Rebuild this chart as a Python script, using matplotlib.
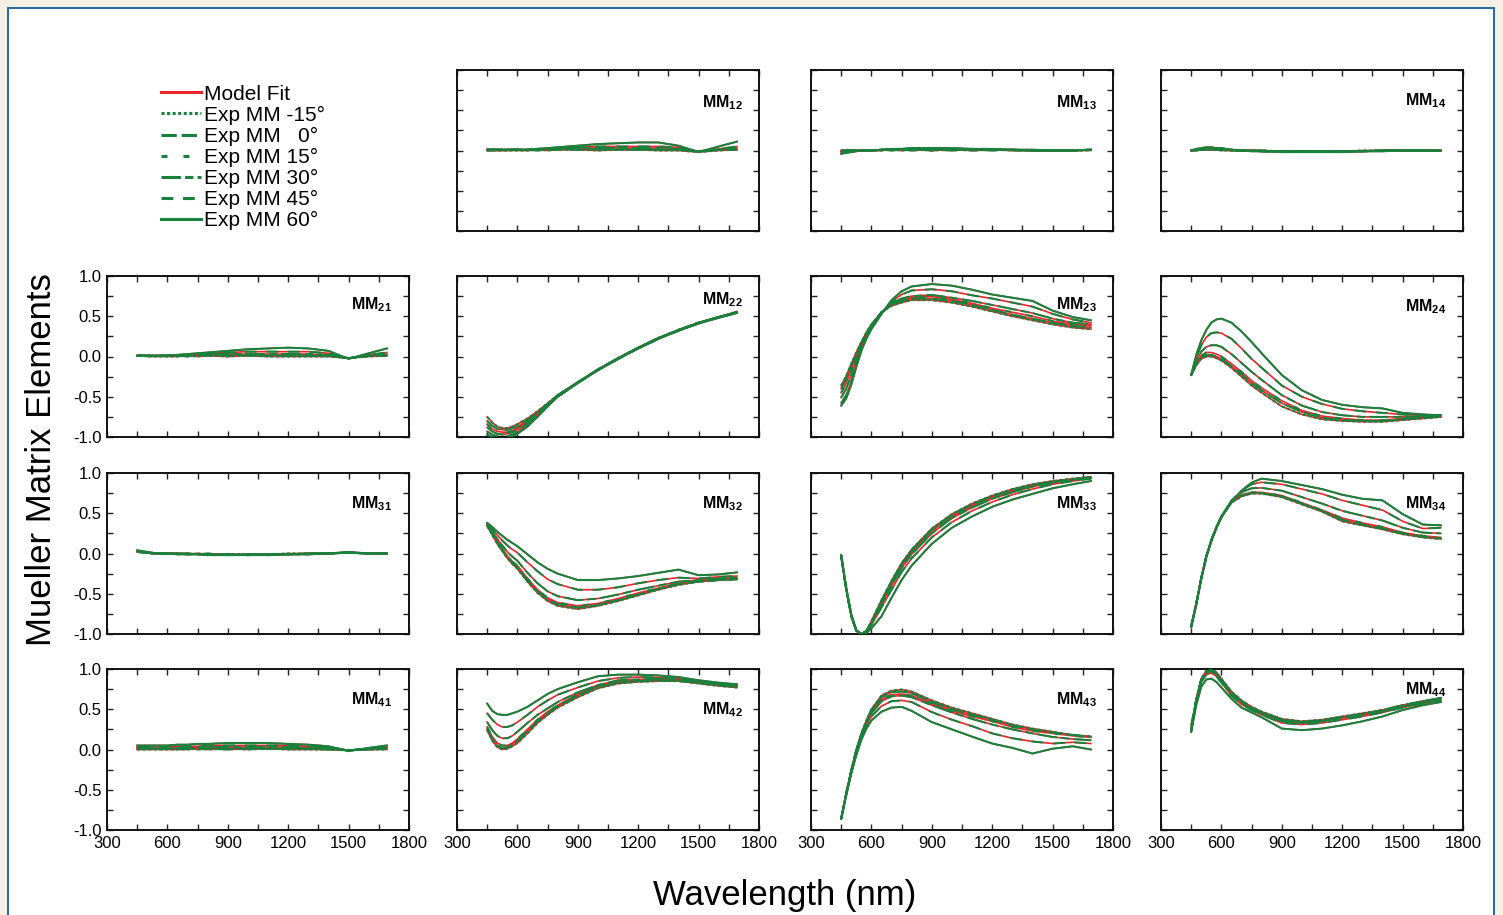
import matplotlib
matplotlib.use("Agg")
import matplotlib.pyplot as plt
from matplotlib.patches import Rectangle
from matplotlib.ticker import MultipleLocator, FormatStrFormatter

# ---------------- data ----------------
WAVELENGTH = [450, 475, 500, 525, 550, 575, 600, 650, 700, 750, 800,
              900, 1000, 1100, 1200, 1300, 1400, 1500, 1600, 1690]
ANGLE_LABELS = ["Exp MM -15°", "Exp MM   0°", "Exp MM 15°",
                "Exp MM 30°", "Exp MM 45°", "Exp MM 60°"]
MODEL_LABEL = "Model Fit"

# each panel: six curves in angle order -15, 0, 15, 30, 45, 60 deg
MM12 = [
    [0.00, 0.00, 0.00, 0.00, 0.00, 0.00, 0.00, 0.00, 0.01, 0.00, 0.01, 0.01, 0.00, 0.01, 0.01, 0.00, 0.00, -0.02, 0.00, 0.01],
    [0.01, 0.01, 0.01, 0.01, 0.01, 0.01, 0.01, 0.01, 0.00, 0.01, 0.02, 0.01, 0.02, 0.01, 0.01, 0.01, 0.01, -0.01, 0.01, 0.01],
    [0.00, 0.00, 0.00, 0.00, 0.00, 0.01, 0.01, 0.00, 0.01, 0.02, 0.01, 0.02, 0.01, 0.02, 0.02, 0.01, 0.01, -0.01, 0.01, 0.02],
    [0.01, 0.01, 0.01, 0.01, 0.01, 0.01, 0.01, 0.01, 0.02, 0.02, 0.03, 0.03, 0.03, 0.03, 0.03, 0.03, 0.02, -0.01, 0.01, 0.03],
    [0.01, 0.01, 0.01, 0.01, 0.01, 0.01, 0.01, 0.01, 0.02, 0.02, 0.03, 0.04, 0.05, 0.05, 0.05, 0.05, 0.04, -0.01, 0.02, 0.05],
    [0.01, 0.01, 0.01, 0.01, 0.01, 0.01, 0.01, 0.01, 0.02, 0.03, 0.04, 0.06, 0.08, 0.09, 0.10, 0.10, 0.06, -0.02, 0.05, 0.11],
]
MM13 = [
    [0.00, 0.00, 0.00, 0.00, 0.00, 0.00, 0.00, 0.00, 0.01, 0.00, 0.01, 0.00, 0.01, 0.00, 0.01, 0.00, 0.00, 0.00, 0.00, 0.00],
    [0.00, 0.00, 0.00, 0.00, 0.00, 0.00, 0.00, 0.01, 0.00, 0.01, 0.00, 0.01, 0.00, 0.01, 0.00, 0.01, 0.00, 0.00, 0.00, 0.01],
    [-0.01, 0.00, 0.00, 0.00, 0.00, 0.00, 0.00, 0.00, 0.02, 0.00, 0.02, 0.00, 0.02, 0.00, 0.01, 0.00, 0.00, 0.00, 0.00, 0.01],
    [-0.01, -0.01, 0.00, 0.00, 0.00, 0.00, 0.00, 0.01, 0.01, 0.02, 0.01, 0.02, 0.01, 0.02, 0.01, 0.01, 0.00, 0.00, 0.00, 0.01],
    [-0.02, -0.01, 0.00, 0.00, 0.00, 0.00, 0.00, 0.01, 0.01, 0.02, 0.02, 0.02, 0.02, 0.02, 0.01, 0.01, 0.00, 0.00, 0.00, 0.01],
    [-0.04, -0.03, -0.02, -0.01, 0.00, 0.00, 0.00, 0.01, 0.02, 0.02, 0.03, 0.03, 0.03, 0.02, 0.02, 0.01, 0.01, 0.00, 0.00, 0.01],
]
MM14 = [
    [0.00, 0.00, 0.01, 0.01, 0.01, 0.01, 0.00, 0.00, 0.00, 0.00, 0.00, -0.01, -0.01, -0.01, -0.01, 0.00, 0.00, 0.00, 0.00, 0.00],
    [0.00, 0.00, 0.01, 0.01, 0.01, 0.01, 0.01, 0.00, 0.00, 0.00, 0.00, -0.01, -0.01, -0.01, -0.01, -0.01, 0.00, 0.00, 0.00, 0.00],
    [0.00, 0.01, 0.01, 0.01, 0.01, 0.01, 0.01, 0.00, 0.00, 0.00, -0.01, -0.01, -0.01, -0.01, -0.01, -0.01, 0.00, 0.00, 0.00, 0.00],
    [0.00, 0.01, 0.01, 0.02, 0.02, 0.01, 0.01, 0.01, 0.00, 0.00, -0.01, -0.01, -0.01, -0.01, -0.01, -0.01, 0.00, 0.00, 0.00, 0.00],
    [0.00, 0.01, 0.02, 0.02, 0.02, 0.02, 0.01, 0.01, 0.00, 0.00, -0.01, -0.01, -0.01, -0.01, -0.01, -0.01, 0.00, 0.00, 0.00, 0.00],
    [0.00, 0.02, 0.03, 0.04, 0.04, 0.03, 0.03, 0.01, 0.00, -0.01, -0.01, -0.02, -0.02, -0.02, -0.02, -0.01, -0.01, 0.00, 0.00, 0.00],
]
MM21 = [
    [0.01, 0.01, 0.00, 0.00, 0.00, 0.00, 0.00, 0.00, 0.01, 0.00, 0.01, 0.00, 0.01, 0.00, 0.00, 0.00, 0.00, -0.02, 0.00, 0.01],
    [0.01, 0.01, 0.01, 0.01, 0.01, 0.01, 0.01, 0.01, 0.00, 0.02, 0.01, 0.02, 0.01, 0.01, 0.01, 0.01, 0.01, -0.02, 0.01, 0.01],
    [0.01, 0.01, 0.01, 0.01, 0.01, 0.01, 0.01, 0.01, 0.02, 0.01, 0.02, 0.01, 0.02, 0.02, 0.02, 0.01, 0.01, -0.02, 0.01, 0.02],
    [0.01, 0.01, 0.01, 0.01, 0.01, 0.01, 0.01, 0.02, 0.02, 0.03, 0.03, 0.03, 0.03, 0.03, 0.03, 0.03, 0.02, -0.02, 0.01, 0.03],
    [0.01, 0.01, 0.01, 0.01, 0.01, 0.01, 0.01, 0.02, 0.02, 0.03, 0.04, 0.05, 0.06, 0.06, 0.06, 0.06, 0.04, -0.02, 0.02, 0.05],
    [0.01, 0.01, 0.01, 0.01, 0.01, 0.01, 0.01, 0.02, 0.03, 0.04, 0.05, 0.07, 0.09, 0.10, 0.11, 0.10, 0.07, -0.03, 0.04, 0.10],
]
MM22 = [
    [-0.75, -0.82, -0.87, -0.89, -0.89, -0.87, -0.84, -0.77, -0.68, -0.58, -0.48, -0.32, -0.16, -0.02, 0.11, 0.23, 0.33, 0.42, 0.49, 0.55],
    [-0.80, -0.86, -0.90, -0.91, -0.91, -0.89, -0.87, -0.79, -0.70, -0.59, -0.48, -0.32, -0.16, -0.02, 0.11, 0.23, 0.33, 0.42, 0.49, 0.55],
    [-0.84, -0.90, -0.93, -0.94, -0.94, -0.92, -0.89, -0.81, -0.71, -0.60, -0.49, -0.32, -0.16, -0.02, 0.11, 0.23, 0.33, 0.42, 0.49, 0.56],
    [-0.88, -0.93, -0.96, -0.97, -0.96, -0.94, -0.91, -0.83, -0.72, -0.61, -0.49, -0.32, -0.17, -0.03, 0.10, 0.22, 0.33, 0.42, 0.49, 0.55],
    [-0.93, -0.97, -0.99, -1.00, -0.99, -0.97, -0.94, -0.85, -0.74, -0.62, -0.50, -0.33, -0.17, -0.03, 0.10, 0.22, 0.32, 0.41, 0.49, 0.55],
    [-0.97, -1.00, -1.02, -1.02, -1.01, -0.99, -0.96, -0.87, -0.75, -0.62, -0.50, -0.33, -0.17, -0.03, 0.10, 0.22, 0.32, 0.41, 0.48, 0.54],
]
MM23 = [
    [-0.36, -0.24, -0.09, 0.05, 0.18, 0.30, 0.40, 0.55, 0.63, 0.67, 0.70, 0.70, 0.67, 0.62, 0.56, 0.50, 0.45, 0.40, 0.36, 0.34],
    [-0.40, -0.28, -0.12, 0.03, 0.17, 0.29, 0.39, 0.55, 0.64, 0.69, 0.72, 0.72, 0.69, 0.64, 0.58, 0.52, 0.47, 0.42, 0.38, 0.36],
    [-0.45, -0.33, -0.16, 0.00, 0.15, 0.28, 0.38, 0.55, 0.65, 0.70, 0.73, 0.745, 0.71, 0.66, 0.60, 0.55, 0.50, 0.44, 0.40, 0.38],
    [-0.51, -0.40, -0.23, -0.05, 0.12, 0.26, 0.37, 0.54, 0.66, 0.72, 0.75, 0.765, 0.73, 0.69, 0.64, 0.59, 0.54, 0.47, 0.42, 0.40],
    [-0.58, -0.48, -0.31, -0.10, 0.09, 0.24, 0.35, 0.53, 0.68, 0.77, 0.82, 0.835, 0.81, 0.76, 0.72, 0.67, 0.62, 0.53, 0.46, 0.42],
    [-0.61, -0.52, -0.35, -0.13, 0.07, 0.22, 0.34, 0.53, 0.70, 0.81, 0.87, 0.90, 0.88, 0.83, 0.77, 0.73, 0.69, 0.57, 0.49, 0.45],
]
MM24 = [
    [-0.23, -0.11, -0.03, 0.00, 0.00, -0.02, -0.05, -0.14, -0.25, -0.36, -0.45, -0.62, -0.72, -0.78, -0.80, -0.81, -0.81, -0.79, -0.77, -0.75],
    [-0.23, -0.10, -0.01, 0.02, 0.02, 0.00, -0.03, -0.12, -0.22, -0.33, -0.42, -0.58, -0.69, -0.76, -0.79, -0.80, -0.80, -0.78, -0.76, -0.75],
    [-0.23, -0.09, 0.01, 0.05, 0.05, 0.03, 0.00, -0.09, -0.19, -0.30, -0.39, -0.55, -0.67, -0.74, -0.77, -0.79, -0.79, -0.77, -0.75, -0.74],
    [-0.23, -0.06, 0.06, 0.12, 0.14, 0.14, 0.12, 0.03, -0.08, -0.19, -0.29, -0.48, -0.61, -0.69, -0.73, -0.75, -0.75, -0.75, -0.74, -0.73],
    [-0.23, -0.02, 0.14, 0.24, 0.29, 0.30, 0.29, 0.22, 0.10, -0.03, -0.14, -0.36, -0.50, -0.59, -0.65, -0.68, -0.70, -0.72, -0.73, -0.73],
    [-0.23, 0.02, 0.20, 0.33, 0.42, 0.46, 0.47, 0.42, 0.31, 0.18, 0.04, -0.23, -0.42, -0.54, -0.60, -0.63, -0.645, -0.70, -0.72, -0.73],
]
MM31 = [
    [0.03, 0.02, 0.01, 0.00, 0.00, 0.00, 0.00, 0.00, -0.01, 0.00, -0.01, -0.01, -0.01, -0.01, 0.00, 0.00, 0.00, 0.01, 0.00, 0.00],
    [0.02, 0.02, 0.01, 0.00, 0.00, 0.00, 0.00, -0.01, 0.00, -0.01, 0.00, -0.02, -0.01, -0.02, -0.01, 0.00, 0.00, 0.01, 0.00, 0.00],
    [0.03, 0.02, 0.01, 0.01, 0.00, 0.00, 0.00, 0.00, -0.01, 0.00, -0.02, -0.01, -0.02, -0.01, -0.01, 0.00, 0.00, 0.01, 0.00, 0.00],
    [0.02, 0.01, 0.01, 0.00, 0.00, 0.00, 0.00, -0.01, -0.01, -0.01, -0.01, -0.02, -0.01, -0.01, -0.01, -0.01, 0.00, 0.01, 0.00, 0.00],
    [0.03, 0.02, 0.01, 0.00, 0.00, 0.00, 0.00, 0.00, 0.00, -0.01, -0.01, -0.01, -0.02, -0.01, -0.01, 0.00, 0.00, 0.01, 0.00, 0.00],
    [0.04, 0.03, 0.02, 0.01, 0.00, 0.00, 0.00, 0.00, -0.01, -0.01, -0.02, -0.02, -0.02, -0.02, -0.01, -0.01, 0.00, 0.02, 0.00, 0.00],
]
MM32 = [
    [0.34, 0.23, 0.12, 0.03, -0.06, -0.13, -0.19, -0.35, -0.49, -0.59, -0.65, -0.69, -0.65, -0.59, -0.52, -0.45, -0.39, -0.35, -0.33, -0.32],
    [0.36, 0.25, 0.14, 0.05, -0.04, -0.11, -0.17, -0.33, -0.47, -0.57, -0.63, -0.67, -0.64, -0.58, -0.51, -0.44, -0.38, -0.35, -0.33, -0.32],
    [0.35, 0.25, 0.15, 0.06, -0.03, -0.10, -0.15, -0.31, -0.45, -0.55, -0.61, -0.65, -0.62, -0.56, -0.49, -0.43, -0.37, -0.34, -0.32, -0.31],
    [0.36, 0.27, 0.18, 0.10, 0.02, -0.04, -0.09, -0.24, -0.37, -0.47, -0.53, -0.58, -0.56, -0.51, -0.45, -0.40, -0.35, -0.33, -0.31, -0.30],
    [0.37, 0.30, 0.23, 0.16, 0.10, 0.05, 0.01, -0.11, -0.22, -0.32, -0.38, -0.45, -0.45, -0.42, -0.37, -0.33, -0.30, -0.31, -0.29, -0.28],
    [0.38, 0.33, 0.27, 0.22, 0.17, 0.13, 0.09, -0.01, -0.11, -0.19, -0.25, -0.33, -0.33, -0.31, -0.28, -0.24, -0.20, -0.27, -0.26, -0.235],
]
MM33 = [
    [-0.02, -0.45, -0.78, -0.96, -1.00, -0.96, -0.84, -0.58, -0.34, -0.12, 0.05, 0.31, 0.49, 0.62, 0.72, 0.80, 0.86, 0.90, 0.93, 0.95],
    [-0.02, -0.45, -0.78, -0.96, -1.00, -0.96, -0.85, -0.59, -0.35, -0.13, 0.04, 0.30, 0.48, 0.61, 0.71, 0.79, 0.85, 0.89, 0.92, 0.95],
    [-0.03, -0.45, -0.78, -0.96, -1.00, -0.97, -0.86, -0.61, -0.37, -0.15, 0.02, 0.28, 0.46, 0.59, 0.70, 0.78, 0.84, 0.88, 0.92, 0.94],
    [-0.03, -0.44, -0.77, -0.96, -1.00, -0.97, -0.87, -0.63, -0.40, -0.18, -0.01, 0.25, 0.44, 0.57, 0.68, 0.76, 0.83, 0.88, 0.91, 0.94],
    [-0.04, -0.44, -0.77, -0.96, -1.00, -0.98, -0.89, -0.67, -0.45, -0.23, -0.06, 0.20, 0.39, 0.53, 0.64, 0.73, 0.80, 0.86, 0.90, 0.93],
    [-0.02, -0.42, -0.75, -0.95, -1.00, -0.99, -0.93, -0.78, -0.55, -0.33, -0.15, 0.12, 0.32, 0.46, 0.58, 0.67, 0.74, 0.81, 0.86, 0.90],
]
MM34 = [
    [-0.92, -0.64, -0.32, -0.05, 0.15, 0.31, 0.45, 0.63, 0.71, 0.745, 0.745, 0.70, 0.61, 0.52, 0.40, 0.35, 0.30, 0.24, 0.20, 0.18],
    [-0.90, -0.62, -0.30, -0.03, 0.17, 0.33, 0.46, 0.64, 0.72, 0.75, 0.75, 0.71, 0.62, 0.53, 0.42, 0.36, 0.31, 0.25, 0.21, 0.19],
    [-0.90, -0.62, -0.30, -0.03, 0.17, 0.33, 0.46, 0.65, 0.73, 0.76, 0.76, 0.72, 0.63, 0.54, 0.44, 0.38, 0.33, 0.26, 0.22, 0.20],
    [-0.91, -0.63, -0.31, -0.04, 0.16, 0.32, 0.46, 0.66, 0.76, 0.81, 0.815, 0.78, 0.70, 0.62, 0.53, 0.47, 0.41, 0.32, 0.26, 0.25],
    [-0.91, -0.63, -0.31, -0.04, 0.16, 0.32, 0.45, 0.65, 0.78, 0.86, 0.885, 0.86, 0.80, 0.74, 0.66, 0.60, 0.54, 0.40, 0.31, 0.32],
    [-0.91, -0.63, -0.31, -0.04, 0.16, 0.32, 0.45, 0.64, 0.78, 0.88, 0.93, 0.90, 0.85, 0.80, 0.73, 0.68, 0.66, 0.49, 0.36, 0.35],
]
MM41 = [
    [0.00, 0.00, 0.00, 0.00, 0.00, 0.00, 0.00, 0.00, 0.00, 0.01, 0.00, 0.01, 0.00, 0.01, 0.00, 0.00, 0.00, -0.01, 0.00, 0.00],
    [0.01, 0.01, 0.01, 0.01, 0.01, 0.01, 0.01, 0.01, 0.01, 0.00, 0.01, 0.00, 0.01, 0.01, 0.01, 0.01, 0.00, -0.01, 0.00, 0.01],
    [0.01, 0.01, 0.01, 0.01, 0.01, 0.01, 0.01, 0.01, 0.02, 0.01, 0.02, 0.01, 0.02, 0.01, 0.01, 0.01, 0.01, -0.01, 0.01, 0.01],
    [0.02, 0.02, 0.02, 0.02, 0.02, 0.02, 0.02, 0.02, 0.02, 0.03, 0.03, 0.03, 0.03, 0.03, 0.03, 0.02, 0.02, -0.01, 0.01, 0.02],
    [0.03, 0.03, 0.03, 0.03, 0.03, 0.03, 0.03, 0.04, 0.04, 0.04, 0.05, 0.05, 0.05, 0.05, 0.05, 0.04, 0.03, -0.01, 0.01, 0.03],
    [0.05, 0.05, 0.05, 0.05, 0.05, 0.05, 0.05, 0.06, 0.06, 0.07, 0.07, 0.08, 0.08, 0.08, 0.07, 0.06, 0.04, -0.02, 0.02, 0.05],
]
MM42 = [
    [0.24, 0.11, 0.03, 0.00, 0.01, 0.04, 0.08, 0.20, 0.33, 0.43, 0.52, 0.65, 0.76, 0.82, 0.84, 0.85, 0.85, 0.82, 0.79, 0.77],
    [0.26, 0.13, 0.05, 0.02, 0.03, 0.06, 0.11, 0.23, 0.35, 0.45, 0.54, 0.67, 0.78, 0.83, 0.85, 0.86, 0.85, 0.83, 0.80, 0.78],
    [0.28, 0.16, 0.08, 0.05, 0.05, 0.08, 0.13, 0.25, 0.37, 0.47, 0.55, 0.69, 0.79, 0.84, 0.86, 0.87, 0.86, 0.83, 0.80, 0.78],
    [0.34, 0.24, 0.17, 0.14, 0.14, 0.17, 0.22, 0.33, 0.43, 0.51, 0.59, 0.71, 0.80, 0.86, 0.87, 0.88, 0.87, 0.84, 0.81, 0.79],
    [0.45, 0.37, 0.31, 0.28, 0.28, 0.30, 0.34, 0.43, 0.53, 0.61, 0.68, 0.77, 0.85, 0.89, 0.90, 0.895, 0.88, 0.85, 0.82, 0.80],
    [0.57, 0.48, 0.44, 0.43, 0.43, 0.45, 0.47, 0.53, 0.61, 0.69, 0.75, 0.835, 0.91, 0.93, 0.93, 0.92, 0.90, 0.86, 0.83, 0.81],
]
MM43 = [
    [-0.86, -0.54, -0.25, 0.00, 0.20, 0.36, 0.50, 0.67, 0.73, 0.745, 0.72, 0.61, 0.52, 0.45, 0.38, 0.31, 0.26, 0.22, 0.18, 0.16],
    [-0.86, -0.54, -0.26, -0.01, 0.19, 0.35, 0.49, 0.65, 0.71, 0.72, 0.70, 0.59, 0.50, 0.43, 0.37, 0.30, 0.25, 0.21, 0.18, 0.16],
    [-0.86, -0.55, -0.27, -0.02, 0.18, 0.34, 0.47, 0.62, 0.68, 0.69, 0.67, 0.57, 0.48, 0.41, 0.35, 0.28, 0.23, 0.20, 0.17, 0.15],
    [-0.86, -0.55, -0.28, -0.03, 0.17, 0.33, 0.45, 0.60, 0.66, 0.67, 0.65, 0.55, 0.46, 0.38, 0.31, 0.25, 0.20, 0.156, 0.13, 0.115],
    [-0.86, -0.56, -0.29, -0.05, 0.15, 0.30, 0.41, 0.54, 0.60, 0.61, 0.59, 0.465, 0.37, 0.29, 0.20, 0.14, 0.10, 0.074, 0.09, 0.074],
    [-0.86, -0.57, -0.30, -0.07, 0.12, 0.26, 0.36, 0.47, 0.52, 0.53, 0.48, 0.34, 0.25, 0.16, 0.074, 0.02, -0.05, 0.01, 0.04, 0.00],
]
MM44 = [
    [0.22, 0.62, 0.88, 0.98, 1.00, 0.96, 0.88, 0.72, 0.61, 0.53, 0.47, 0.38, 0.35, 0.37, 0.41, 0.45, 0.49, 0.55, 0.60, 0.64],
    [0.23, 0.62, 0.87, 0.97, 0.99, 0.95, 0.87, 0.71, 0.60, 0.52, 0.46, 0.37, 0.34, 0.36, 0.40, 0.44, 0.49, 0.55, 0.60, 0.64],
    [0.24, 0.62, 0.87, 0.96, 0.98, 0.94, 0.86, 0.70, 0.59, 0.51, 0.45, 0.36, 0.34, 0.36, 0.40, 0.44, 0.48, 0.54, 0.59, 0.63],
    [0.25, 0.61, 0.85, 0.95, 0.97, 0.93, 0.85, 0.69, 0.58, 0.50, 0.44, 0.35, 0.33, 0.35, 0.39, 0.43, 0.47, 0.53, 0.58, 0.62],
    [0.30, 0.62, 0.84, 0.93, 0.95, 0.91, 0.83, 0.67, 0.56, 0.49, 0.43, 0.33, 0.31, 0.33, 0.37, 0.41, 0.46, 0.52, 0.57, 0.61],
    [0.22, 0.55, 0.78, 0.87, 0.88, 0.84, 0.77, 0.63, 0.52, 0.46, 0.40, 0.26, 0.24, 0.26, 0.30, 0.35, 0.41, 0.49, 0.55, 0.59],
]

X_TICKS = [300, 600, 900, 1200, 1500, 1800]
Y_TICKS = [-1.0, -0.5, 0.0, 0.5, 1.0]

# ---------------- styling ----------------
plt.rcParams["font.family"] = ["Liberation Sans", "DejaVu Sans"]
plt.rcParams["mathtext.fontset"] = "custom"
plt.rcParams["mathtext.rm"] = "Liberation Sans"
plt.rcParams["mathtext.bf"] = "Liberation Sans:bold"
plt.rcParams["lines.scale_dashes"] = False

RED = "#e8262b"
GREEN = "#17823d"
DASHES = [(0, (2.2, 1.8)),          # -15
          (0, (11, 3.5)),           # 0
          (0, (4.3, 11.5)),         # 15
          (0, (14, 3, 6, 3)),       # 30
          (0, (8.5, 7)),            # 45
          "-"]                      # 60

W, H = 1503, 915
fig = plt.figure(figsize=(W / 100, H / 100), dpi=100, facecolor="#f8f0e4")
frame = Rectangle((8 / W, -0.01), (1494 - 8) / W, 1 - 8 / H + 0.01,
                  transform=fig.transFigure, facecolor="white",
                  edgecolor="#1f6a9c", linewidth=1.4, zorder=-10)
fig.add_artist(frame)

COL_X = [107, 457, 811, 1161]
ROW_Y = [70, 276, 473, 669]
PW, PH = 302, 161

PANELS = {
    (0, 1): ("12", MM12, 0.80), (0, 2): ("13", MM13, 0.80), (0, 3): ("14", MM14, 0.81),
    (1, 0): ("21", MM21, 0.82), (1, 1): ("22", MM22, 0.85), (1, 2): ("23", MM23, 0.82), (1, 3): ("24", MM24, 0.81),
    (2, 0): ("31", MM31, 0.81), (2, 1): ("32", MM32, 0.81), (2, 2): ("33", MM33, 0.81), (2, 3): ("34", MM34, 0.81),
    (3, 0): ("41", MM41, 0.81), (3, 1): ("42", MM42, 0.75), (3, 2): ("43", MM43, 0.81), (3, 3): ("44", MM44, 0.87),
}

legend_handles = None
for (r, c), (name, curves, ly) in PANELS.items():
    ax = fig.add_axes([COL_X[c] / W, 1 - (ROW_Y[r] + PH) / H, PW / W, PH / H])
    ax.set_facecolor("white")
    model_lines = []
    for vals in curves:
        ln, = ax.plot(WAVELENGTH, vals, color=RED, lw=1.2, zorder=2)
        model_lines.append(ln)
    exp_lines = []
    for vals, ls in zip(curves, DASHES):
        ln, = ax.plot(WAVELENGTH, vals, color=GREEN, lw=1.45, linestyle=ls, zorder=3)
        exp_lines.append(ln)
    if legend_handles is None:
        legend_handles = [model_lines[0]] + exp_lines
    ax.set_xlim(300, 1800)
    ax.set_ylim(-1.0, 1.0)
    ax.set_xticks(X_TICKS)
    ax.set_yticks(Y_TICKS)
    ax.xaxis.set_minor_locator(MultipleLocator(150))
    ax.yaxis.set_minor_locator(MultipleLocator(0.25))
    ax.yaxis.set_major_formatter(FormatStrFormatter("%.1f"))
    ax.tick_params(which="both", direction="in", top=True, right=True,
                   length=4, width=1.0, labelsize=12, colors="#222222",
                   labelcolor="black")
    ax.tick_params(axis="y", pad=4)
    ax.tick_params(axis="x", pad=4)
    if c != 0:
        ax.tick_params(labelleft=False)
    if r != 3:
        ax.tick_params(labelbottom=False)
    for s in ax.spines.values():
        s.set_linewidth(1.4)
        s.set_color("#111111")
    ax.text(0.945, ly, r"$\mathbf{MM}_{\mathbf{%s}}$" % name, transform=ax.transAxes,
            ha="right", va="center", fontsize=11.5)

leg = fig.legend(legend_handles, [MODEL_LABEL] + ANGLE_LABELS, loc="upper left",
                 bbox_to_anchor=(146 / W, 1 - 70 / H), frameon=False, fontsize=15,
                 handlelength=1.95, handletextpad=0.12, labelspacing=0.1,
                 borderpad=0.2)
for hl in leg.get_lines():
    hl.set_linewidth(2.2)

fig.text(42 / W, 1 - 460 / H, "Mueller Matrix Elements", rotation=90,
         ha="center", va="center", fontsize=25)
fig.text(785 / W, 1 - 895 / H, "Wavelength (nm)", ha="center", va="center",
         fontsize=25)

fig.savefig("out.png", dpi=100, facecolor=fig.get_facecolor())
